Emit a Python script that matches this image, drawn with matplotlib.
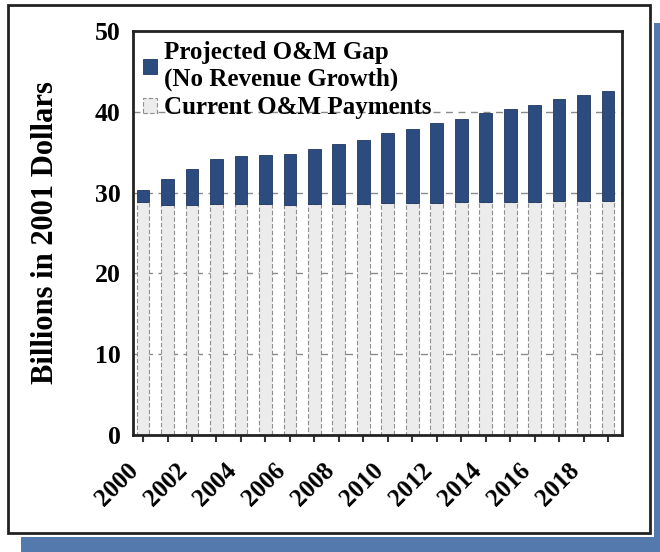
import matplotlib.pyplot as plt
from matplotlib.patches import Rectangle

years = list(range(2000, 2020))
current_payments = [28.8, 28.5, 28.5, 28.6, 28.6, 28.6, 28.5, 28.6, 28.6, 28.6,
                    28.7, 28.7, 28.7, 28.8, 28.8, 28.8, 28.8, 28.9, 28.9, 29.0]
om_gap = [1.5, 3.2, 4.4, 5.6, 5.9, 6.0, 6.3, 6.8, 7.4, 7.9,
          8.7, 9.2, 9.9, 10.3, 11.0, 11.5, 12.1, 12.7, 13.2, 13.6]
y_ticks = [0, 10, 20, 30, 40, 50]

plt.rcParams['font.family'] = ['Liberation Serif', 'DejaVu Serif']
plt.rcParams['font.weight'] = 'bold'

W, H = 660, 552
fig = plt.figure(figsize=(W / 100, H / 100), dpi=100)


def box(x0, y0, x1, y1):
    # pixel box (top-left origin) -> figure fraction rectangle args
    return (x0 / W, 1 - y1 / H), (x1 - x0) / W, (y1 - y0) / H


# blue drop shadow + black outer frame
for x0, y0, x1, y1 in [(654, 23, 660, 552), (21, 537, 660, 552)]:
    xy, w, h = box(x0, y0, x1, y1)
    fig.add_artist(Rectangle(xy, w, h, transform=fig.transFigure,
                             facecolor='#5479ad', edgecolor='none', zorder=-2))
xy, w, h = box(8, 5, 650, 533)
fig.add_artist(Rectangle(xy, w, h, transform=fig.transFigure,
                         facecolor='white', edgecolor='#222222', lw=2, zorder=-1))

ax = fig.add_axes([133 / W, 1 - 435 / H, (622 - 133) / W, (435 - 31) / H])

cur = ax.bar(years, current_payments, width=0.52, color='#ececec',
             edgecolor='#8f8f8f', linewidth=0.8, linestyle=(0, (4, 2)), zorder=2)
gap = ax.bar(years, om_gap, bottom=current_payments, width=0.52,
             color='#2c4b7f', edgecolor='#1f3760', linewidth=0.6, zorder=2)

ax.set_ylim(0, 50)
ax.set_xlim(years[0] - 0.41, years[-1] + 0.57)
ax.set_yticks(y_ticks)
ax.set_xticks(years)
ax.set_xticklabels([str(y) if y % 2 == 0 else '' for y in years],
                   rotation=45, ha='right')
ax.tick_params(axis='y', length=0, pad=9, labelsize=18.5)
ax.tick_params(axis='x', direction='out', length=5, width=1.5, pad=12,
               labelsize=18, color='#333333')

ax.yaxis.grid(True, color='#8a8a8a', linestyle=(0, (5, 4)), linewidth=1)
ax.set_axisbelow(True)
for s in ax.spines.values():
    s.set_linewidth(2)
    s.set_color('#222222')

ax.set_ylabel('Billions in 2001 Dollars', fontsize=22, fontweight='bold')
ax.yaxis.set_label_coords(-0.15, 0.5)

ax.legend([gap, cur], ['Projected O&M Gap\n(No Revenue Growth)', 'Current O&M Payments'],
          loc='upper left', bbox_to_anchor=(0.0, 1.0), frameon=False,
          fontsize=18, handlelength=0.55, handleheight=0.55, handletextpad=0.3,
          labelspacing=0.2, borderaxespad=0.2, borderpad=0.2)

fig.savefig('out.png', dpi=100)
